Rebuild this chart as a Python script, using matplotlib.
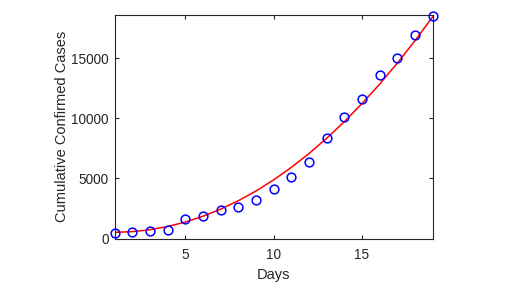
"""Cumulative confirmed cases vs days: observed points and fitted curve."""

import matplotlib

matplotlib.use("Agg")
import matplotlib.pyplot as plt

days = list(range(1, 20))
cases = [448, 556, 664, 722, 1636, 1885, 2350, 2660, 3230, 4128,
         5110, 6370, 8390, 10100, 11590, 13570, 15000, 16900, 18500]
fit = [530, 584, 744, 1009, 1381, 1861, 2450, 3150, 3960, 4884,
       5921, 7073, 8340, 9725, 11227, 12849, 14591, 16454, 18440]
xticks = [5, 10, 15]
yticks = [0, 5000, 10000, 15000]

plt.rcParams["font.family"] = ["Liberation Sans", "DejaVu Sans"]

fig = plt.figure(figsize=(5.14, 2.88), dpi=100)
ax = fig.add_axes([0.2228, 0.1712, 0.6192, 0.7778])

ax.plot(days, fit, color="red", lw=1.1, zorder=2)
ax.plot(days, cases, "o", mfc="none", mec="blue", mew=1.1, ms=6.3,
        zorder=3, clip_on=False)

ax.set_xlim(1, 19)
ax.set_ylim(0, 18600)
ax.set_xticks(xticks)
ax.set_yticks(yticks)

dark = "#262626"
for s in ax.spines.values():
    s.set_color(dark)
    s.set_linewidth(0.8)
ax.tick_params(direction="in", length=3, width=0.8, color=dark,
               labelcolor=dark, labelsize=9.8, top=True, right=True)
ax.tick_params(axis="x", pad=7)
ax.tick_params(axis="y", pad=4)
ax.set_xlabel("Days", fontsize=10.5, color=dark, labelpad=4)
ax.set_ylabel("Cumulative Confirmed Cases", fontsize=10.5, color=dark,
              labelpad=2)

fig.savefig("out.png", dpi=100)
